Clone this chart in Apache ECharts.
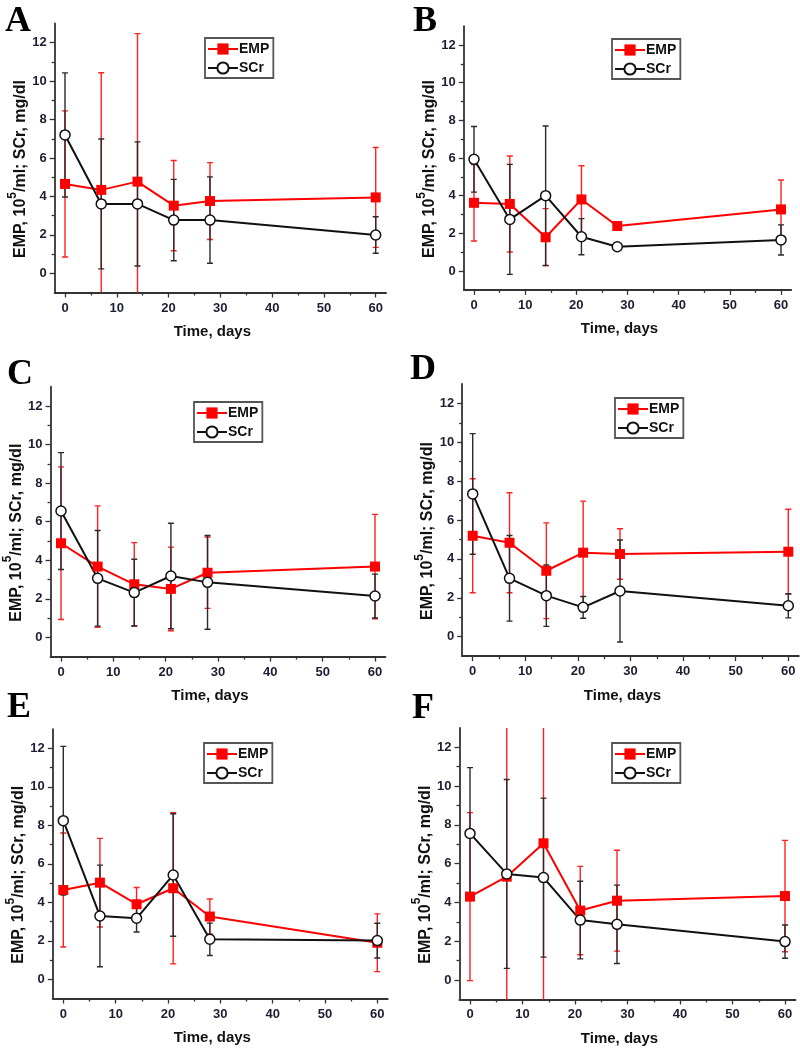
<!DOCTYPE html>
<html>
<head>
<meta charset="utf-8">
<script src="https://cdn.jsdelivr.net/npm/echarts@6/dist/echarts.min.js"></script>
<style>
  html, body { margin: 0; padding: 0; background: #fff; }
  #main { width: 800px; height: 1050px; }
</style>
</head>
<body>
<div id="main"></div>
<script>
// sampling days and axis ticks
const days = [0, 7, 14, 21, 28, 60];
const xTicks = [0, 10, 20, 30, 40, 50, 60];
const xMinorTicks = [5, 15, 25, 35, 45, 55];
const yTicks = [0, 2, 4, 6, 8, 10, 12];
const yMinorTicks = [1, 3, 5, 7, 9, 11];

// panel A
const empA = [4.65, 4.34, 4.77, 3.52, 3.76, 3.95];
const empSdA = [3.8, 6.1, 7.7, 2.35, 2.0, 2.6];
const scrA = [7.2, 3.61, 3.61, 2.77, 2.77, 1.99];
const scrSdA = [3.23, 3.38, 3.23, 2.12, 2.25, 0.95];
// panel B
const empB = [3.62, 3.56, 1.79, 3.8, 2.39, 3.27];
const empSdB = [2.03, 2.55, 1.52, 1.79, 0.2, 1.56];
const scrB = [5.93, 2.74, 4.0, 1.82, 1.29, 1.65];
const scrSdB = [1.74, 2.92, 3.7, 0.96, 0.15, 0.8];
// panel C
const empC = [4.88, 3.67, 2.75, 2.51, 3.35, 3.67];
const empSdC = [3.96, 3.15, 2.16, 2.17, 1.85, 2.71];
const scrC = [6.55, 3.06, 2.32, 3.18, 2.85, 2.14];
const scrSdC = [3.03, 2.48, 1.73, 2.74, 2.43, 1.14];
// panel D
const empD = [5.19, 4.83, 3.39, 4.32, 4.25, 4.37];
const empSdD = [2.93, 2.57, 2.46, 2.65, 1.3, 2.18];
const scrD = [7.34, 3.0, 2.11, 1.51, 2.35, 1.59];
const scrSdD = [3.1, 2.2, 1.58, 0.56, 2.62, 0.62];
// panel E
const empE = [4.64, 5.02, 3.9, 4.73, 3.26, 1.9];
const empSdE = [2.96, 2.3, 0.87, 3.93, 0.91, 1.5];
const scrE = [8.24, 3.29, 3.17, 5.42, 2.08, 2.01];
const scrSdE = [3.86, 2.64, 0.71, 3.18, 0.84, 0.9];
// panel F
const empF = [4.3, 5.33, 7.05, 3.58, 4.09, 4.33];
const empSdF = [4.33, 8.5, 8.5, 2.28, 2.6, 2.87];
const scrF = [7.56, 5.47, 5.28, 3.09, 2.87, 1.98];
const scrSdF = [3.39, 4.87, 4.1, 2.0, 2.02, 0.86];

// layout: pixel position of x=0 / x=60 and y=12 / y=0 per panel
const panels = [
  {letter: 'A', emp: empA, empSd: empSdA, scr: scrA, scrSd: scrSdA, x0: 65, x60: 375.7, y12: 42.7, y0: 273.3, lg: [205, 38], lt: [5, 4]},
  {letter: 'B', emp: empB, empSd: empSdB, scr: scrB, scrSd: scrSdB, x0: 474, x60: 781, y12: 45, y0: 271, lg: [612, 39], lt: [413, 4]},
  {letter: 'C', emp: empC, empSd: empSdC, scr: scrC, scrSd: scrSdC, x0: 61, x60: 375, y12: 406, y0: 637.3, lg: [194, 402], lt: [7, 357]},
  {letter: 'D', emp: empD, empSd: empSdD, scr: scrD, scrSd: scrSdD, x0: 472.7, x60: 788.3, y12: 403.3, y0: 636.7, lg: [615, 398], lt: [410, 352]},
  {letter: 'E', emp: empE, empSd: empSdE, scr: scrE, scrSd: scrSdE, x0: 63.3, x60: 377.3, y12: 748.3, y0: 979.3, lg: [204, 743], lt: [7, 690]},
  {letter: 'F', emp: empF, empSd: empSdF, scr: scrF, scrSd: scrSdF, x0: 470, x60: 785, y12: 747.3, y0: 980, lg: [612, 743], lt: [412, 691]}
];

const FONT = '"Liberation Sans", Arial, sans-serif';
const AXIS_COLOR = '#333';
const LABEL_COLOR = '#1d1d33';
const RED = '#ff0000';
const BLACK = '#111';

function errorBars(color) {
  return function (params, api) {
    const x = api.value(0);
    const lo = api.coord([x, api.value(1)]);
    const hi = api.coord([x, api.value(2)]);
    const hw = 3;
    const style = {stroke: color, lineWidth: 1.4};
    return {
      type: 'group',
      children: [
        {type: 'line', shape: {x1: hi[0], y1: hi[1], x2: lo[0], y2: lo[1]}, style: style},
        {type: 'line', shape: {x1: hi[0] - hw, y1: hi[1], x2: hi[0] + hw, y2: hi[1]}, style: style},
        {type: 'line', shape: {x1: lo[0] - hw, y1: lo[1], x2: lo[0] + hw, y2: lo[1]}, style: style}
      ]
    };
  };
}

const grid = [], xAxis = [], yAxis = [], series = [], legend = [], graphic = [];

panels.forEach(function (p, i) {
  const ux = (p.x60 - p.x0) / 60;
  const uy = (p.y0 - p.y12) / 12;
  grid.push({left: p.x0 - 2 * ux, top: p.y12 - uy, width: 64 * ux, height: 14 * uy});

  const tickStyle = {color: AXIS_COLOR, width: 1.3};
  xAxis.push({
    type: 'value', gridIndex: i, position: 'bottom', min: -2, max: 62,
    axisLine: {onZero: false, lineStyle: {color: AXIS_COLOR, width: 1.8}},
    axisTick: {customValues: xTicks, length: 5, lineStyle: tickStyle},
    axisLabel: {customValues: xTicks, margin: 9, color: LABEL_COLOR, fontSize: 13, fontWeight: 'bold', fontFamily: FONT},
    splitLine: {show: false},
    name: 'Time, days', nameLocation: 'middle', nameGap: 32,
    nameTextStyle: {color: BLACK, fontSize: 15, fontWeight: 'bold', fontFamily: FONT, padding: [0, 16, 0, 0]}
  });
  xAxis.push({
    type: 'value', gridIndex: i, position: 'bottom', min: -2, max: 62,
    axisLine: {show: false, onZero: false},
    axisTick: {customValues: xMinorTicks, length: 3, lineStyle: tickStyle},
    axisLabel: {show: false}, splitLine: {show: false}
  });
  yAxis.push({
    type: 'value', gridIndex: i, position: 'left', min: -1, max: 13,
    axisLine: {show: true, onZero: false, lineStyle: {color: AXIS_COLOR, width: 1.8}},
    axisTick: {show: true, customValues: yTicks, length: 5, lineStyle: tickStyle},
    axisLabel: {customValues: yTicks, margin: 8, color: LABEL_COLOR, fontSize: 13, fontWeight: 'bold', fontFamily: FONT},
    splitLine: {show: false},
    name: '{n|EMP, 10}{s|5}{n|/ml; SCr, mg/dl}', nameLocation: 'middle', nameGap: 22,
    nameTextStyle: {
      padding: [0, 22, 0, 0],
      rich: {
        n: {fontSize: 16, fontWeight: 'bold', fontFamily: FONT, color: BLACK, lineHeight: 22, verticalAlign: 'bottom'},
        s: {fontSize: 12, fontWeight: 'bold', fontFamily: FONT, color: BLACK, lineHeight: 22, verticalAlign: 'top'}
      }
    }
  });
  yAxis.push({
    type: 'value', gridIndex: i, position: 'left', min: -1, max: 13,
    axisLine: {show: false, onZero: false},
    axisTick: {show: true, customValues: yMinorTicks, length: 3, lineStyle: tickStyle},
    axisLabel: {show: false}, splitLine: {show: false}
  });

  const ax = 2 * i;
  series.push({
    type: 'custom', name: 'EMP SD', xAxisIndex: ax, yAxisIndex: ax, clip: true,
    renderItem: errorBars('#ff2020'), encode: {x: 0, y: [1, 2]},
    data: days.map(function (d, j) { return [d, p.emp[j] - p.empSd[j], p.emp[j] + p.empSd[j]]; })
  });
  series.push({
    type: 'line', name: 'EMP', xAxisIndex: ax, yAxisIndex: ax,
    symbol: 'rect', symbolSize: 10,
    itemStyle: {color: RED},
    lineStyle: {color: RED, width: 2},
    data: days.map(function (d, j) { return [d, p.emp[j]]; })
  });
  series.push({
    type: 'custom', name: 'SCr SD', xAxisIndex: ax, yAxisIndex: ax, clip: true,
    renderItem: errorBars('#2a2a2a'), encode: {x: 0, y: [1, 2]},
    data: days.map(function (d, j) { return [d, p.scr[j] - p.scrSd[j], p.scr[j] + p.scrSd[j]]; })
  });
  series.push({
    type: 'line', name: 'SCr', xAxisIndex: ax, yAxisIndex: ax,
    symbol: 'circle', symbolSize: 10,
    itemStyle: {color: '#fff', borderColor: BLACK, borderWidth: 1.5},
    lineStyle: {color: BLACK, width: 2},
    data: days.map(function (d, j) { return [d, p.scr[j]]; })
  });

  legend.push({
    data: ['EMP', 'SCr'], orient: 'vertical', left: p.lg[0], top: p.lg[1],
    itemWidth: 30, itemHeight: 14, itemGap: 5, padding: [4, 4, 3, 2],
    borderColor: '#555', borderWidth: 1.8, backgroundColor: '#fff',
    selectedMode: false,
    textStyle: {color: BLACK, fontSize: 14, fontWeight: 'bold', fontFamily: FONT, padding: [0, 0, 0, -4]}
  });

  graphic.push({
    type: 'text', left: p.lt[0], top: p.lt[1],
    style: {text: p.letter, font: 'bold 36px "Liberation Serif", "Times New Roman", serif', fill: '#000'}
  });
});

const chart = echarts.init(document.getElementById('main'));
chart.setOption({
  animation: false,
  backgroundColor: '#fff',
  grid: grid,
  xAxis: xAxis,
  yAxis: yAxis,
  legend: legend,
  graphic: graphic,
  series: series
});
</script>
</body>
</html>
